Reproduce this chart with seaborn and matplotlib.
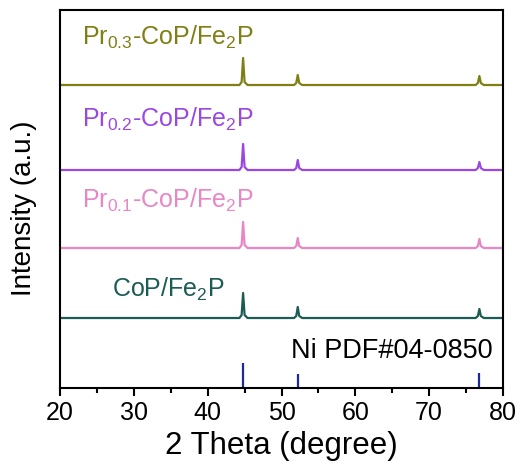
import numpy as np
import pandas as pd
import matplotlib
matplotlib.use("Agg")
import matplotlib.pyplot as plt
import seaborn as sns

# 2-theta sampling points around the diffraction peaks
two_theta = [20.0, 44.3, 44.6, 44.8, 45.0, 45.4, 51.7, 52.0, 52.2, 52.4, 52.8,
             76.3, 76.6, 76.8, 77.0, 77.4, 80.0]

# Intensity above each pattern's baseline (a.u.)
int_cop = [0, 0, 3, 25, 3, 0, 0, 2, 11, 2, 0, 0, 2, 9, 2, 0, 0]
int_pr01 = [0, 0, 3, 26, 3, 0, 0, 2, 10, 2, 0, 0, 2, 9, 2, 0, 0]
int_pr02 = [0, 0, 3, 26, 3, 0, 0, 2, 10, 2, 0, 0, 2, 8, 2, 0, 0]
int_pr03 = [0, 0, 3, 27, 3, 0, 0, 2, 10, 2, 0, 0, 2, 9, 2, 0, 0]

samples = ["CoP/Fe$_2$P", "Pr$_{0.1}$-CoP/Fe$_2$P",
           "Pr$_{0.2}$-CoP/Fe$_2$P", "Pr$_{0.3}$-CoP/Fe$_2$P"]
offsets = [70, 140, 218, 303]
label_y = [91, 180, 261, 343]
label_x = [27.0, 23.0, 23.0, 23.0]
colors = ["#1b5c54", "#e886c6", "#9b48e2", "#7f7f14"]

# Ni reference card PDF#04-0850
ni_positions = [44.8, 52.2, 76.8]
ni_heights = [25, 14, 15]

sns.set_style("ticks")
plt.rcParams["font.family"] = ["Liberation Sans", "DejaVu Sans"]
plt.rcParams["mathtext.fontset"] = "custom"
plt.rcParams["mathtext.rm"] = "Liberation Sans"
plt.rcParams["mathtext.it"] = "Liberation Sans:italic"
plt.rcParams["mathtext.default"] = "rm"

fig = plt.figure(figsize=(5.22, 4.66), dpi=100)
ax = fig.add_axes([60 / 522, 78 / 466, 443 / 522, 378 / 466])

series = [int_cop, int_pr01, int_pr02, int_pr03]
for name, vals, off, col, lx, ly in zip(samples, series, offsets, colors, label_x, label_y):
    df = pd.DataFrame({"two_theta": two_theta,
                       "intensity": np.array(vals, dtype=float) + off})
    sns.lineplot(data=df, x="two_theta", y="intensity", color=col,
                 linewidth=1.6, ax=ax, estimator=None, sort=False)
    ax.text(lx, ly, name, color=col, fontsize=18, ha="left", va="baseline")

ax.vlines(ni_positions, 0, ni_heights, color="#1c2a9c", linewidth=1.6)
ax.text(78.6, 30, "Ni PDF#04-0850", color="black", fontsize=19.5,
        ha="right", va="baseline")

ax.set_xlim(20, 80)
ax.set_ylim(0, 378)
ax.set_xticks(np.arange(20, 81, 10))
ax.set_xticks(np.arange(25, 80, 10), minor=True)
ax.set_yticks([])
ax.tick_params(axis="x", which="major", direction="out", length=6, width=1.5,
               labelsize=18, pad=3, colors="black")
ax.tick_params(axis="x", which="minor", direction="out", length=3.5, width=1.5,
               colors="black")
for sp in ax.spines.values():
    sp.set_visible(True)
    sp.set_linewidth(1.5)
    sp.set_color("black")
ax.set_xlabel("2 Theta (degree)", fontsize=22.5, labelpad=4.5, color="black")
ax.set_ylabel("Intensity (a.u.)", fontsize=20, color="black")
ax.yaxis.set_label_coords(-0.052, 0.476)

fig.savefig("out.png", dpi=100)
